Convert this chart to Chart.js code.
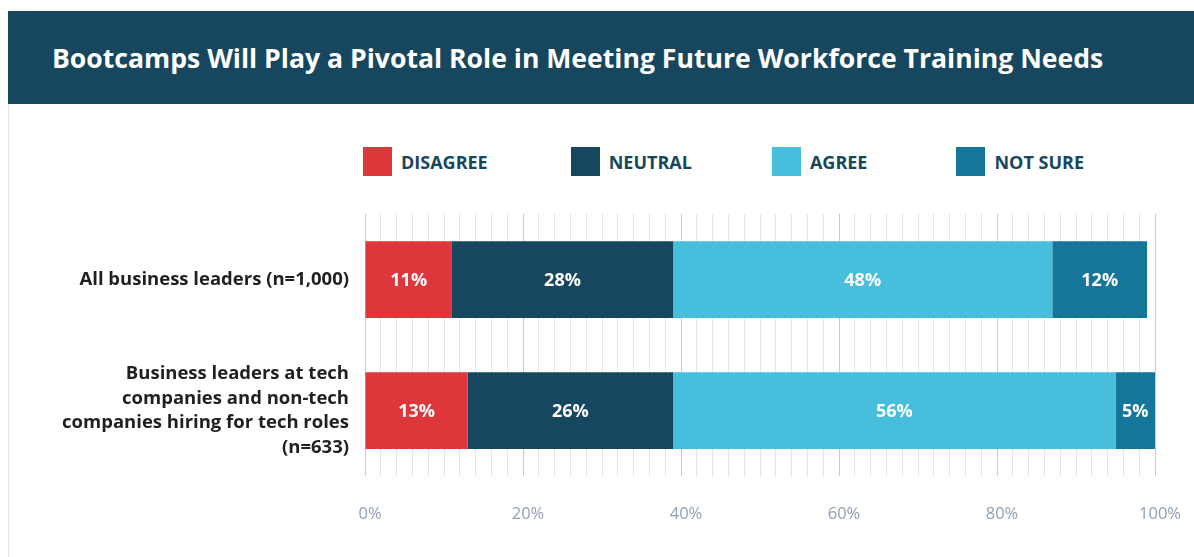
<!DOCTYPE html>
<html>
<head>
<meta charset="utf-8">
<title>Bootcamps Will Play a Pivotal Role</title>
<script src="https://cdn.jsdelivr.net/npm/chart.js@4.4.1/dist/chart.umd.min.js"></script>
<style>
  html, body { margin: 0; padding: 0; background: #fff; width: 1194px; height: 557px; overflow: hidden; font-family: "Open Sans", sans-serif; }
  .header { position: absolute; left: 8px; top: 11px; width: 1186px; height: 93px; background: #16475e; color: #fff;
            display: flex; align-items: center; box-sizing: border-box; padding-left: 44px; font-size: 26.6px; font-weight: 700; }
  .frame { position: absolute; left: 8px; top: 104px; width: 1px; height: 453px; background: #e6e6e6; }
  .legend { position: absolute; left: 363px; top: 147px; display: flex; gap: 83px; }
  .legend-item { display: flex; align-items: center; font-size: 18px; font-weight: 700; color: #16475e; }
  .legend-item:nth-child(3) { margin-left: -3px; }
  .legend-item:nth-child(4) { margin-left: 6px; }
  .swatch { width: 29px; height: 29px; margin-right: 9px; }
  .chart-wrap { position: absolute; left: 0; top: 104px; width: 1194px; height: 453px; }
</style>
</head>
<body>
<div class="header">Bootcamps Will Play a Pivotal Role in Meeting Future Workforce Training Needs</div>
<div class="frame"></div>
<div class="legend" id="legend"></div>
<div class="chart-wrap"><canvas id="bootcampChart"></canvas></div>

<script>
// --- data ---
const categories = [
  "All business leaders (n=1,000)",
  ["Business leaders at tech", "companies and non-tech", "companies hiring for tech roles", "(n=633)"],
];
const seriesNames = ["DISAGREE", "NEUTRAL", "AGREE", "NOT SURE"];
const disagree = [11, 13];
const neutral = [28, 26];
const agree = [48, 56];
const notSure = [12, 5];
const xTickLabels = ["0%", "20%", "40%", "60%", "80%", "100%"];

const colors = ["#dd363b", "#16475e", "#47bedc", "#157699"];

// white % labels centred in each segment
const barLabels = {
  id: "barLabels",
  afterDatasetsDraw(chart) {
    const ctx = chart.ctx;
    ctx.save();
    ctx.font = '700 18px "Open Sans"';
    ctx.fillStyle = "#ffffff";
    ctx.textAlign = "center";
    ctx.textBaseline = "middle";
    chart.data.datasets.forEach((ds, i) => {
      chart.getDatasetMeta(i).data.forEach((bar, j) => {
        ctx.fillText(ds.data[j] + "%", (bar.x + bar.base) / 2, bar.y + 1);
      });
    });
    ctx.restore();
  },
};

document.addEventListener("DOMContentLoaded", function () {
  buildLegend();
  createChart();
});

function buildLegend() {
  const el = document.getElementById("legend");
  seriesNames.forEach((name, i) => {
    const item = document.createElement("div");
    item.className = "legend-item";
    item.innerHTML = '<span class="swatch" style="background:' + colors[i] + '"></span>' + name;
    el.appendChild(item);
  });
}

function createChart() {
  const ctx = document.getElementById("bootcampChart").getContext("2d");
  const values = [disagree, neutral, agree, notSure];

  new Chart(ctx, {
    type: "bar",
    data: {
      labels: categories,
      datasets: seriesNames.map((name, i) => ({
        label: name,
        data: values[i],
        backgroundColor: colors[i],
        borderWidth: 0,
        categoryPercentage: 1,
        barPercentage: 0.585,
      })),
    },
    plugins: [barLabels],
    options: {
      indexAxis: "y",
      responsive: true,
      maintainAspectRatio: false,
      animation: false,
      layout: { padding: { top: 110, right: 39, bottom: 5, left: 0 } },
      plugins: {
        legend: { display: false },
        tooltip: { enabled: false },
      },
      scales: {
        x: {
          stacked: true,
          min: 0,
          max: 100,
          afterFit: (scale) => { scale.paddingRight = 0; },
          border: { display: false },
          grid: {
            drawTicks: false,
            lineWidth: 1,
            color: (c) => (c.tick && c.tick.value % 20 === 0 ? "#c9c9cc" : "#e3e3e9"),
          },
          ticks: {
            stepSize: 2,
            maxTicksLimit: 60,
            autoSkip: false,
            maxRotation: 0,
            padding: 28,
            labelOffset: 5,
            color: "#8fa0b4",
            font: { family: "Open Sans", size: 16.5 },
            callback: (val) => (val % 20 === 0 ? xTickLabels[val / 20] : ""),
          },
        },
        y: {
          stacked: true,
          border: { display: false },
          grid: { display: false, drawTicks: false },
          afterFit: (scale) => { scale.width = 365; },
          ticks: {
            padding: 16,
            color: "#231f20",
            font: { family: "Open Sans", size: 18.5, weight: "700", lineHeight: 1.33 },
          },
        },
      },
    },
  });
}
</script>
</body>
</html>
